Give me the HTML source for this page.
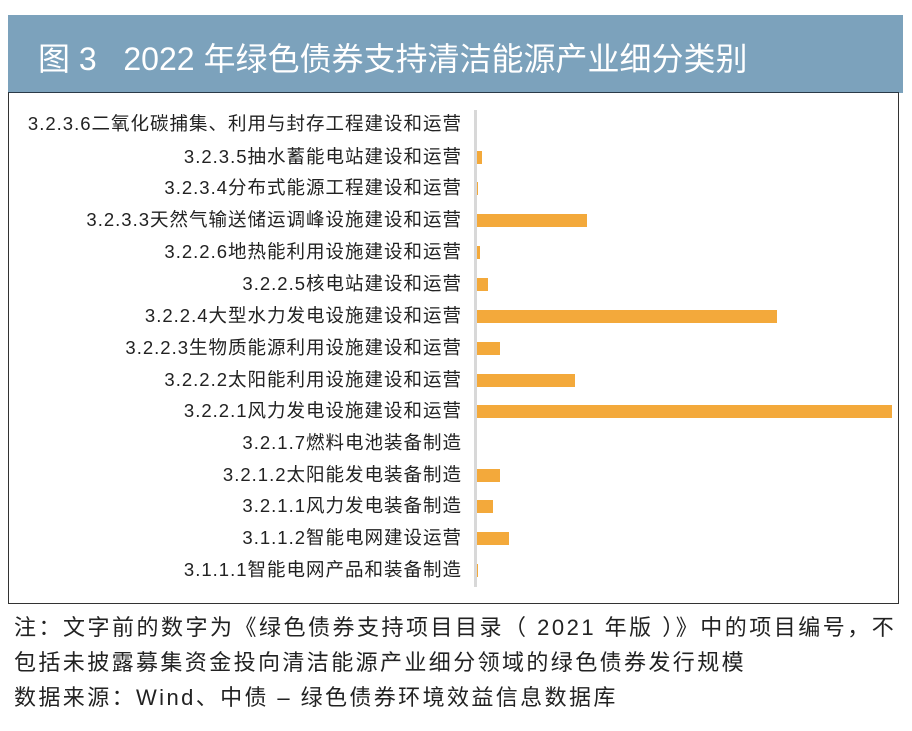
<!DOCTYPE html>
<html><head><meta charset="utf-8"><style>
body{margin:0;width:912px;height:731px;background:#fff;position:relative;overflow:hidden;font-family:"Liberation Sans","Noto Sans CJK SC",sans-serif;}
.hdr{position:absolute;left:8px;top:15px;width:895px;height:78px;background:#7ca2bc;}
.hdr span{position:absolute;left:30px;top:19px;color:#fff;font-size:32px;white-space:nowrap;}
.box{position:absolute;left:8px;top:92px;width:889px;height:510px;border:1px solid #333;border-top:1px solid #2a3a48;}
.axis{position:absolute;left:474px;top:110px;width:3px;height:477px;background:#d8d8d8;}
.lbl{position:absolute;right:450px;font-size:18.5px;letter-spacing:1px;color:#222;white-space:nowrap;line-height:20px;}
.bar{position:absolute;left:477px;height:13px;background:#f3a93b;}
.note{position:absolute;left:14px;font-size:22px;letter-spacing:2.4px;color:#222;white-space:nowrap;}
</style></head><body>
<div class="hdr"><span>图 3&nbsp;&nbsp;&nbsp;2022 年绿色债券支持清洁能源产业细分类别</span></div>
<div class="box"></div>
<div class="axis"></div>
<div class="lbl" style="top:114px">3.2.3.6二氧化碳捕集、利用与封存工程建设和运营</div>
<div class="lbl" style="top:147px">3.2.3.5抽水蓄能电站建设和运营</div>
<div class="lbl" style="top:178px">3.2.3.4分布式能源工程建设和运营</div>
<div class="lbl" style="top:210px">3.2.3.3天然气输送储运调峰设施建设和运营</div>
<div class="lbl" style="top:242px">3.2.2.6地热能利用设施建设和运营</div>
<div class="lbl" style="top:274px">3.2.2.5核电站建设和运营</div>
<div class="lbl" style="top:306px">3.2.2.4大型水力发电设施建设和运营</div>
<div class="lbl" style="top:338px">3.2.2.3生物质能源利用设施建设和运营</div>
<div class="lbl" style="top:370px">3.2.2.2太阳能利用设施建设和运营</div>
<div class="lbl" style="top:401px">3.2.2.1风力发电设施建设和运营</div>
<div class="lbl" style="top:433px">3.2.1.7燃料电池装备制造</div>
<div class="lbl" style="top:465px">3.2.1.2太阳能发电装备制造</div>
<div class="lbl" style="top:496px">3.2.1.1风力发电装备制造</div>
<div class="lbl" style="top:528px">3.1.1.2智能电网建设运营</div>
<div class="lbl" style="top:560px">3.1.1.1智能电网产品和装备制造</div>
<div class="bar" style="top:151px;width:5px"></div>
<div class="bar" style="top:182px;width:1px"></div>
<div class="bar" style="top:214px;width:110px"></div>
<div class="bar" style="top:246px;width:3px"></div>
<div class="bar" style="top:278px;width:11px"></div>
<div class="bar" style="top:310px;width:300px"></div>
<div class="bar" style="top:342px;width:23px"></div>
<div class="bar" style="top:374px;width:98px"></div>
<div class="bar" style="top:405px;width:415px"></div>
<div class="bar" style="top:469px;width:23px"></div>
<div class="bar" style="top:500px;width:16px"></div>
<div class="bar" style="top:532px;width:32px"></div>
<div class="bar" style="top:564px;width:1px"></div>
<div class="note" style="top:610px;letter-spacing:2.5px">注：文字前的数字为《绿色债券支持项目目录（ 2021 年版 ）》中的项目编号，不</div>
<div class="note" style="top:645px">包括未披露募集资金投向清洁能源产业细分领域的绿色债券发行规模</div>
<div class="note" style="top:680px">数据来源：Wind、中债 – 绿色债券环境效益信息数据库</div>
</body></html>
